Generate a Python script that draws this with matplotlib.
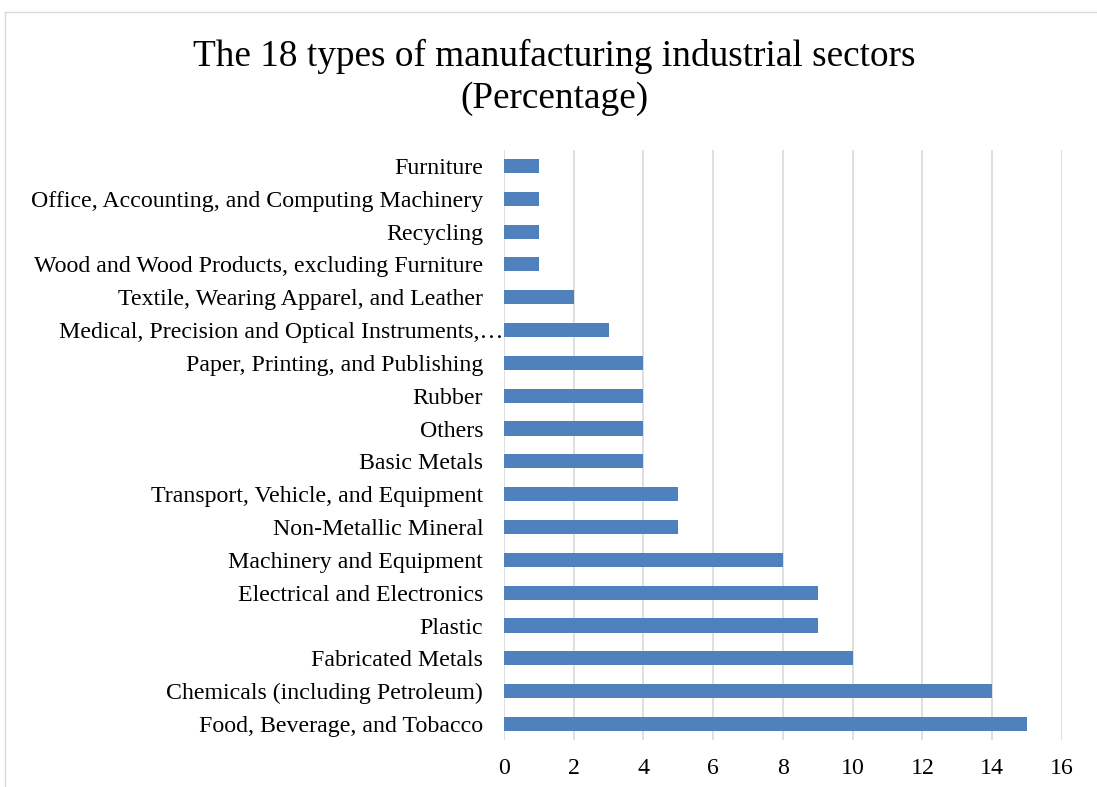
import matplotlib.pyplot as plt
from matplotlib.lines import Line2D
from matplotlib.transforms import ScaledTranslation

plt.rcParams['font.family'] = ['Liberation Serif', 'DejaVu Serif']

sectors = [
    'Food, Beverage, and Tobacco',
    'Chemicals (including Petroleum)',
    'Fabricated Metals',
    'Plastic',
    'Electrical and Electronics',
    'Machinery and Equipment',
    'Non-Metallic Mineral',
    'Transport, Vehicle, and Equipment',
    'Basic Metals',
    'Others',
    'Rubber',
    'Paper, Printing, and Publishing',
    'Medical, Precision and Optical Instruments,\u2026',
    'Textile, Wearing Apparel, and Leather',
    'Wood and Wood Products, excluding Furniture',
    'Recycling',
    'Office, Accounting, and Computing Machinery',
    'Furniture',
]
percent = [15, 14, 10, 9, 9, 8, 5, 5, 4, 4, 4, 4, 3, 2, 1, 1, 1, 1]
xticks = [0, 2, 4, 6, 8, 10, 12, 14, 16]

fig = plt.figure(figsize=(10.97, 7.87), dpi=100)
ax = fig.add_axes([0.4594, 0.0592, 0.5086, 0.7508])

pos = list(range(len(sectors)))
ax.barh(pos, percent, height=0.43, color='#4f81bd', zorder=3)
ax.set_ylim(-0.5, len(sectors) - 0.5)
ax.set_xlim(0, 16)
ax.set_yticks(pos)
ax.set_yticklabels(sectors, fontsize=17.2)
ax.set_xticks(xticks)
ax.set_xticklabels([str(t) for t in xticks], fontsize=17.2)
ax.tick_params(axis='y', length=0, pad=15)
ax.tick_params(axis='x', length=0, pad=13)
ax.grid(axis='x', color='#d9d9d9', linewidth=1.2, zorder=0)
for s in ax.spines.values():
    s.set_visible(False)

# the truncated label runs past the others, up to the axis
for lbl in ax.get_yticklabels():
    if lbl.get_text().endswith('\u2026'):
        lbl.set_transform(lbl.get_transform() + ScaledTranslation(0.2, 0, fig.dpi_scale_trans))

fig.text(0.5055, 0.928, 'The 18 types of manufacturing industrial sectors',
         ha='center', va='center', fontsize=26.8)
fig.text(0.5055, 0.875, '(Percentage)', ha='center', va='center', fontsize=26.8)

# chart frame
fig.add_artist(Line2D([5 / 1097, 5 / 1097], [0, 1 - 12 / 787], color='#d9d9d9', lw=1))
fig.add_artist(Line2D([5 / 1097, 1], [1 - 12 / 787, 1 - 12 / 787], color='#d9d9d9', lw=1))

fig.savefig('out.png', dpi=100)
